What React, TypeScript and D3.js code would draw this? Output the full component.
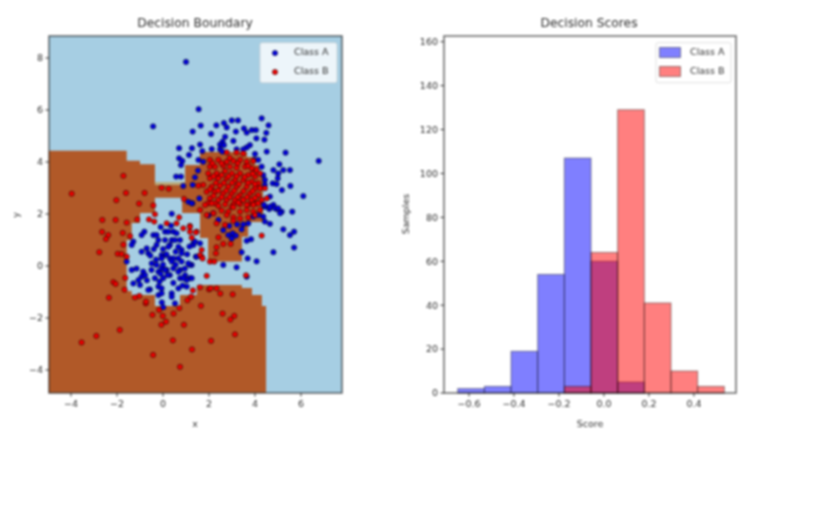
import React from "react";
import * as d3 from "d3";

const classA: [number, number][] = [
[1.00,7.85],[1.55,6.03],[-0.43,5.37],[1.64,5.40],[1.29,5.17],[2.32,5.41],[2.09,5.08],[2.65,5.50],[2.77,5.33],[2.99,5.60],[3.26,5.60],[4.29,5.68],[4.59,5.41],[3.17,5.17],[3.52,5.29],[3.64,5.13],[3.86,5.23],[4.04,5.23],[4.49,5.12],[4.06,4.91],[4.41,4.86],[2.70,4.97],[2.59,4.78],[3.06,4.81],[1.61,4.67],[2.48,4.67],[2.65,4.65],[3.78,4.65],[3.64,4.56],[0.70,4.53],[1.26,4.53],[1.71,4.42],[2.12,4.50],[2.48,4.49],[2.58,4.40],[3.20,4.49],[3.49,4.49],[1.13,4.27],[0.70,4.14],[0.84,4.04],[0.78,3.88],[1.54,4.08],[1.75,4.01],[4.0,4.31],[3.97,4.08],[4.14,4.08],[4.51,4.40],[5.33,4.36],[6.77,4.04],[5.06,3.91],[4.80,3.69],[5.23,3.69],[5.52,3.69],[5.01,3.56],[4.99,3.37],[4.29,3.82],[4.36,3.50],[4.43,3.31],[4.77,3.18],[4.94,3.15],[5.54,3.08],[5.17,2.92],[4.43,3.12],[6.10,2.69],[4.65,2.67],[4.43,2.28],[4.80,2.35],[4.62,2.19],[4.94,2.19],[5.16,2.09],[5.62,2.09],[4.87,2.22],[0.57,3.44],[0.78,3.44],[1.39,3.41],[1.52,3.67],[1.29,3.12],[0.88,3.08],[1.58,2.60],[1.10,2.47],[1.28,2.41],[0.38,2.01],[1.97,1.94],[2.19,2.03],[2.41,1.77],
[4.39,2.35],[4.65,2.28],[5.01,2.22],[5.09,2.03],[3.93,1.90],[4.14,1.96],[4.36,1.90],[4.43,1.71],[4.65,1.62],[5.23,1.41],[5.70,1.32],[5.52,1.19],[5.70,0.71],[4.80,0.53],[3.83,1.03],[3.64,0.97],[3.42,0.53],[3.68,0.29],[4.07,0.18],[3.20,-0.05],[2.62,0.04],[3.71,1.64],[3.49,1.60],[3.22,1.60],[2.88,1.54],[3.03,1.26],[2.62,1.38],[3.17,1.17],[2.84,1.19],[2.99,1.06],[3.42,1.41],[1.25,2.41],[1.32,0.87],[1.43,0.36],[1.25,0.04],[3.64,-0.41],
[-0.81,1.32],[-0.93,1.19],[-1.29,0.94],[-1.36,0.81],[-0.42,1.19],[-0.28,1.19],[-0.20,1.00],[-0.28,0.81],[0.09,1.32],[0.23,1.32],[0.45,1.32],[0.59,1.26],[0.09,1.00],[0.38,1.00],[0.30,0.81],[0.23,0.74],[0.52,1.0],[0.74,1.0],[0.67,0.74],[1.32,0.81],[1.39,0.94],[-0.93,0.55],[-0.71,0.68],[-0.64,0.49],[-0.06,0.42],[0.09,0.42],[-0.06,0.29],[0.30,0.29],[0.81,0.62],[0.81,0.49],[0.67,0.29],[0.45,0.29],[0.38,0.17],[0.81,0.17],[1.17,0.04],[1.10,0.10],[-0.49,0.10],[-0.28,0.04],[-0.20,-0.22],[-0.06,-0.09],[0.16,-0.15],[0.45,-0.09],[0.74,-0.15],[0.67,-0.22],[0.96,-0.35],[1.17,-0.47],[1.03,-0.54],[-0.86,-0.22],[-0.93,-0.41],[-1.07,-0.54],[-1.29,-0.67],[-1.0,-0.73],[-0.78,-0.35],[-0.35,-0.47],[0.01,-0.47],[0.30,-0.35],[0.74,-0.47],[0.88,-0.47],[1.25,-0.47],[-0.57,-0.90],[-0.64,-0.92],[-0.20,-0.79],[-0.06,-0.86],[-0.20,-1.12],[-0.06,-1.05],[0.38,-1.05],[0.38,-1.18],[0.67,-0.86],[1.03,-0.79],[0.52,-1.44],[-1.58,0.17],[-1.36,-0.15],[1.46,0.36],[1.61,0.87],
[-0.5,-0.15],[-0.3,0.25],[0.0,0.05],[0.2,-0.35],[0.55,0.05],[0.95,-0.1],[-0.7,-0.55],[-0.15,-0.6],[0.45,-0.65],[0.85,-0.75],[-0.4,0.65],[0.0,0.65],[0.55,0.55],[1.05,0.45],[-0.1,1.5],[0.35,1.55],[-0.05,-1.4],[0.1,-0.15],[-0.55,0.4],[-1.15,-0.1],[0.15,0.45],[-0.1,-0.3],[1.15,0.75],[0.01,-1.59],
];

const classB: [number, number][] = [
[-3.54,-2.94],[-2.90,-2.69],[-1.88,-2.46],[-0.43,-3.42],[0.43,-2.86],[1.26,-3.21],[2.09,-2.88],[3.13,-2.63],[0.74,-3.88],[0.91,-2.26],[-0.07,-2.26],[0.13,-2.14],[-0.01,-1.92],[-0.17,-1.69],[-0.46,-1.88],[0.46,-1.83],[0.71,-1.62],[1.65,-1.53],[2.59,-1.83],[3.10,-1.92],[2.93,-2.06],[1.06,-1.32],[1.22,-1.18],[1.30,-0.94],[1.61,-0.82],[2.0,-0.90],[2.07,-0.86],[2.33,-0.86],[2.49,-1.06],[3.03,-1.09],[1.90,-0.38],[3.61,-0.36],[-0.75,-1.44],[-0.74,-1.37],[-1.03,-1.15],[-1.22,-1.21],[-2.35,-1.22],[-1.67,-0.91],[-2.16,-0.62],[-2.06,-0.69],[-1.64,-0.46],[-2.77,0.53],[-1.97,0.47],[-1.80,0.46],[-1.72,0.82],[-2.65,1.31],[-2.38,1.19],[-2.48,1.04],[-1.75,1.27],[-1.43,1.15],
[-3.97,2.78],[-1.72,3.47],[-1.61,2.81],[-0.80,2.81],[-2.03,2.53],[-1.04,2.40],[-0.42,2.33],[-0.06,3.01],[0.25,2.97],[-2.64,1.77],[-2.06,1.77],[-1.58,1.67],[-1.12,1.79],[-0.61,1.79],[-0.35,1.99],[-0.38,1.71],[0.16,1.64],[0.59,1.64],[0.70,1.87],[0.91,2.58],[1.17,1.54],[0.88,1.45],[1.17,1.32],[1.46,1.32],[1.25,1.09],[1.68,0.36],[-1.58,0.36],
[2.77,4.37],[3.20,4.37],[3.49,4.33],[2.04,4.08],[2.41,4.08],[2.77,4.01],[3.06,4.04],[3.35,4.08],[3.64,4.01],[3.93,4.04],[2.04,3.82],[2.26,3.82],[2.62,3.86],[2.91,3.82],[3.20,3.78],[3.57,3.82],[3.86,3.76],[4.07,3.69],[1.97,3.56],[2.33,3.56],[2.70,3.65],[2.99,3.56],[3.35,3.56],[3.71,3.50],[4.0,3.44],[4.22,3.56],[2.04,3.37],[2.41,3.37],[2.77,3.37],[3.13,3.31],[3.49,3.31],[3.86,3.24],[4.14,3.18],[4.43,2.99],[1.75,3.12],[1.54,3.09],[2.12,3.05],[2.48,3.09],[2.84,3.05],[3.20,3.05],[3.64,3.05],[4.0,2.99],[4.22,2.99],[1.90,2.86],[2.26,2.86],[2.62,2.79],[2.99,2.79],[3.35,2.73],[3.78,2.79],[4.14,2.73],[2.04,2.60],[2.41,2.54],[2.77,2.54],[3.13,2.54],[3.49,2.54],[3.86,2.54],[4.29,2.54],[4.51,2.60],[1.97,2.41],[2.26,2.41],[2.70,2.37],[3.06,2.37],[3.35,2.37],[3.71,2.37],[4.07,2.41],
[2.15,3.95],[2.55,3.95],[2.9,4.15],[3.25,3.95],[3.7,3.85],[2.2,3.45],[2.55,3.5],[2.85,3.45],[3.2,3.45],[3.55,3.42],[3.9,3.55],[2.3,3.2],[2.65,3.2],[3.0,3.2],[3.3,3.15],[3.7,3.2],[4.0,3.15],[2.05,2.95],[2.4,2.9],[2.75,2.9],[3.1,2.9],[3.5,2.88],[3.9,2.88],[2.2,2.7],[2.55,2.65],[2.9,2.65],[3.25,2.65],[3.65,2.65],[4.0,2.62],
[1.83,2.35],[2.12,2.41],[2.41,2.31],[2.99,2.28],[3.28,2.44],[3.64,2.35],[3.93,2.35],[4.14,2.41],[1.61,2.15],[1.90,1.96],[2.19,2.03],[2.55,2.13],[2.84,2.09],[3.06,2.26],[3.35,2.09],[3.64,2.15],[3.93,2.09],[4.22,2.15],[2.77,1.96],[3.06,1.87],[3.35,1.83],[3.71,1.87],[4.0,1.96],[2.70,1.58],[3.06,1.74],[2.33,1.64],[2.41,1.10],[2.62,0.85],[2.94,0.85],[2.33,0.72],[2.30,0.49],[1.68,0.62],[1.61,0.42],[1.72,0.29],[2.04,0.17],[2.23,0.17],[1.17,1.51],[1.43,1.29],[4.29,1.17],
];

const boundaryOutline: [number, number][] = [
[-4.96,4.43],[-1.58,4.43],[-1.58,4.05],[-1.0,4.05],[-1.0,3.91],[-0.35,3.91],[-0.35,3.12],[0.96,3.12],[0.96,3.88],[1.61,3.88],[1.61,4.38],[3.65,4.38],[3.65,4.19],[4.0,4.19],[4.0,3.88],[4.17,3.88],[4.17,3.5],[4.35,3.5],[4.35,1.69],[3.70,1.69],[3.70,1.12],[3.43,1.12],[3.43,0.17],[1.96,0.17],[1.96,1.08],[1.61,1.08],[1.61,2.04],[0.83,2.04],[0.83,2.62],[-0.35,2.62],[-0.35,2.04],[-1.0,2.04],[-1.0,1.65],[-1.36,1.65],[-1.36,1.0],[-1.58,1.0],[-1.58,-0.96],[-1.36,-0.96],[-1.36,-1.12],[-0.35,-1.12],[-0.35,-1.54],[0.74,-1.54],[0.74,-1.12],[1.47,-1.12],[1.47,-0.73],[3.43,-0.73],[3.43,-0.85],[3.87,-0.85],[3.87,-1.12],[4.3,-1.12],[4.3,-1.54],[4.48,-1.54],[4.48,-4.88],[-4.96,-4.88],
];
const tanStrip: [number, number][] = [[-0.35,3.12],[0.96,3.12],[0.96,3.23],[-0.35,3.23]];

const histEdges = [-0.65,-0.5315,-0.413,-0.2945,-0.176,-0.0575,0.061,0.1795,0.298,0.4165,0.535];
const histA = [2,3,19,54,107,60,5,0,0,0];
const histB = [0,0,0,0,3,64,129,41,10,3];
const scatterXTicks = [-4,-2,0,2,4,6];
const scatterYTicks = [-4,-2,0,2,4,6,8];
const scoreXTicks = [-0.6,-0.4,-0.2,0,0.2,0.4];
const scoreYTicks = [0,20,40,60,80,100,120,140,160];
const legendLabels = ["Class A","Class B"];

const L = {l:49,r:342,t:36,b:393};
const R = {l:444,r:736,t:36,b:393};
const sx = d3.scaleLinear().domain([-4.957,7.783]).range([L.l,L.r]);
const sy = d3.scaleLinear().domain([-4.885,8.846]).range([L.b,L.t]);
const hx = d3.scaleLinear().domain([-0.711,0.587]).range([R.l,R.r]);
const hy = d3.scaleLinear().domain([0,162.6]).range([R.b,R.t]);
const pathOf = d3.line<[number,number]>().x(d=>sx(d[0])).y(d=>sy(d[1]));
const fmt = (v:number)=>String(v).replace("-","\u2212");
const fmt1 = (v:number)=>v.toFixed(1).replace("-","\u2212");
const TC = "#303030";
const FONT = "'DejaVu Sans', sans-serif";
const DOT_R = 2.6;

function Spines({b}:{b:{l:number,r:number,t:number,b:number}}){
  return <rect x={b.l} y={b.t} width={b.r-b.l} height={b.b-b.t} fill="none" stroke="#000" strokeOpacity={0.6} strokeWidth={1.5}/>;
}
function Bars({vals,color}:{vals:number[],color:string}){
  return <g>{vals.map((v,i)=> v>0 ? (
    <rect key={i} x={hx(histEdges[i])} y={hy(v)} width={hx(histEdges[i+1])-hx(histEdges[i])} height={hy(0)-hy(v)}
      fill={color} fillOpacity={0.5} stroke="#000" strokeOpacity={0.4} strokeWidth={1}/>
  ):null)}</g>;
}

export default function App(){
  return (
    <svg width={834} height={505} viewBox="0 0 834 505"
      style={{position:"absolute",left:0,top:0,background:"#fff",filter:"blur(0.85px)"}} fontFamily={FONT}>
      <rect x={L.l} y={L.t} width={L.r-L.l} height={L.b-L.t} fill="#a6cee3"/>
      <path d={pathOf(boundaryOutline)+"Z"} fill="#b15928"/>
      <path d={pathOf(tanStrip)+"Z"} fill="#b8ab7c"/>
      {classA.map((d,i)=><circle key={i} cx={sx(d[0])} cy={sy(d[1])} r={DOT_R} fill="#0000e8" stroke="#000" strokeOpacity={0.55} strokeWidth={1}/>)}
      {classB.map((d,i)=><circle key={i} cx={sx(d[0])} cy={sy(d[1])} r={DOT_R} fill="#f80000" stroke="#000" strokeOpacity={0.55} strokeWidth={1}/>)}
      <Spines b={L}/>
      {scatterXTicks.map(t=><g key={t} transform={`translate(${sx(t)},${L.b})`}>
        <line y2={3.5} stroke={TC}/><text y={14} textAnchor="middle" fontSize={9.5} fill={TC}>{fmt(t)}</text></g>)}
      {scatterYTicks.map(t=><g key={t} transform={`translate(${L.l},${sy(t)})`}>
        <line x2={-3.5} stroke={TC}/><text x={-6} y={3.4} textAnchor="end" fontSize={9.5} fill={TC}>{fmt(t)}</text></g>)}
      <text x={195} y={427} textAnchor="middle" fontSize={9.5} fill={TC}>x</text>
      <text transform="translate(19,215) rotate(-90)" textAnchor="middle" fontSize={9.5} fill={TC}>y</text>
      <text x={195} y={27} textAnchor="middle" fontSize={12.3} fill={TC}>Decision Boundary</text>
      <g>
        <rect x={260} y={42.7} width={77} height={40} rx={2} fill="#fff" fillOpacity={0.8} stroke="#ccc" strokeOpacity={0.6}/>
        <circle cx={275} cy={53} r={DOT_R} fill="#0000e8" stroke="#000" strokeOpacity={0.55} strokeWidth={1}/>
        <circle cx={275} cy={72} r={DOT_R} fill="#f80000" stroke="#000" strokeOpacity={0.55} strokeWidth={1}/>
        <text x={294} y={55} fontSize={9.5} fill={TC}>{legendLabels[0]}</text>
        <text x={294} y={74} fontSize={9.5} fill={TC}>{legendLabels[1]}</text>
      </g>

      <Bars vals={histA} color="#0000ff"/>
      <Bars vals={histB} color="#ff0000"/>
      <Spines b={R}/>
      {scoreXTicks.map(t=><g key={t} transform={`translate(${hx(t)},${R.b})`}>
        <line y2={3.5} stroke={TC}/><text y={14} textAnchor="middle" fontSize={9.5} fill={TC}>{fmt1(t)}</text></g>)}
      {scoreYTicks.map(t=><g key={t} transform={`translate(${R.l},${hy(t)})`}>
        <line x2={-3.5} stroke={TC}/><text x={-6} y={3.4} textAnchor="end" fontSize={9.5} fill={TC}>{fmt(t)}</text></g>)}
      <text x={590} y={427} textAnchor="middle" fontSize={9.5} fill={TC}>Score</text>
      <text transform="translate(409,214) rotate(-90)" textAnchor="middle" fontSize={9.5} fill={TC}>Samples</text>
      <text x={589} y={27} textAnchor="middle" fontSize={12.3} fill={TC}>Decision Scores</text>
      <g>
        <rect x={656} y={42.7} width={75} height={40} rx={2} fill="#fff" fillOpacity={0.8} stroke="#ccc" strokeOpacity={0.6}/>
        <rect x={659.5} y={47.5} width={21} height={10} fill="#0000ff" fillOpacity={0.5} stroke="#000" strokeOpacity={0.4}/>
        <rect x={659.5} y={66.5} width={21} height={10} fill="#ff0000" fillOpacity={0.5} stroke="#000" strokeOpacity={0.4}/>
        <text x={690} y={55} fontSize={9.5} fill={TC}>{legendLabels[0]}</text>
        <text x={690} y={74} fontSize={9.5} fill={TC}>{legendLabels[1]}</text>
      </g>
    </svg>
  );
}
